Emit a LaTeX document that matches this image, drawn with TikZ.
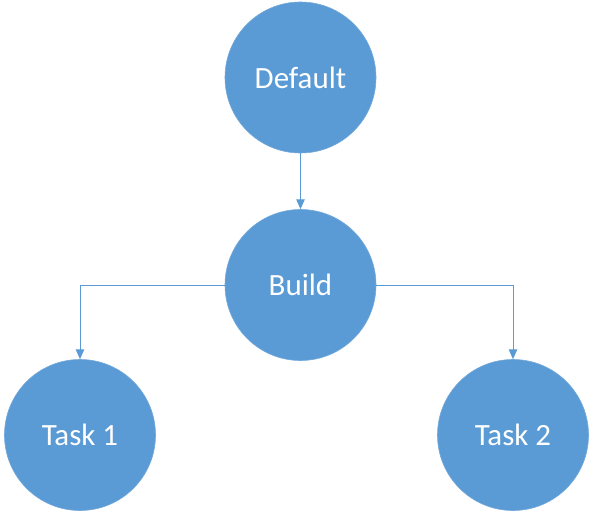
\documentclass[tikz,border=0pt]{standalone}
\usepackage{fontspec}
\setmainfont{Carlito}
\usetikzlibrary{arrows.meta}
\definecolor{officeblue}{HTML}{5B9BD5}
\begin{document}
\begin{tikzpicture}[
    x=0.025cm, y=-0.025cm,
    >={Triangle[length=7pt,width=6pt]},
    task/.style={
        circle,
        fill=officeblue,
        draw=officeblue!85!white,
        line width=0.4pt,
        inner sep=0pt,
        minimum size=3.775cm,
        text=white,
        font=\fontsize{22}{26}\selectfont
    },
    link/.style={
        draw=officeblue,
        line width=0.7pt
    }
]
\useasboundingbox (0,0) rectangle (594,519);

\node[task] (default) at (300.5,77.5) {Default};
\node[task] (build) at (300.5,285) {Build};
\node[task] (task1) at (80,435) {Task 1};
\node[task] (task2) at (513,435) {Task 2};

\draw[->, link] (default) -- (build);
\draw[->, link] (build.west) -| (task1.north);
\draw[->, link] (build.east) -| (task2.north);

\end{tikzpicture}
\end{document}
